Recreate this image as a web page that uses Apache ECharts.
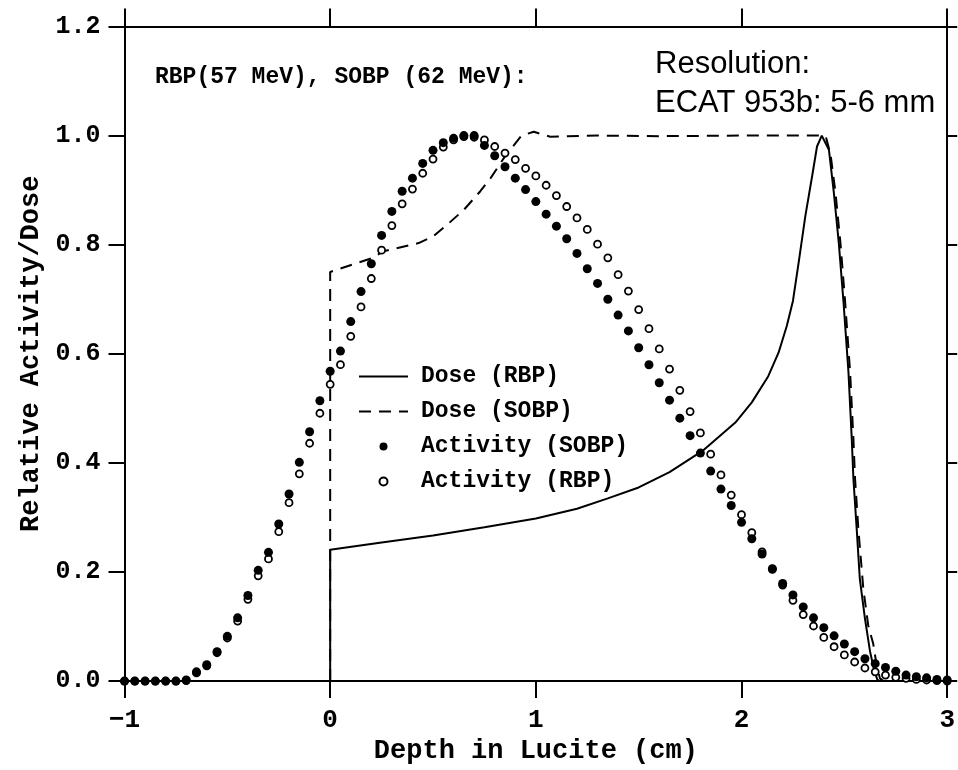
<!DOCTYPE html>
<html>
<head>
<meta charset="utf-8">
<script src="https://cdn.jsdelivr.net/npm/echarts@6/dist/echarts.min.js"></script>
<style>
html,body{margin:0;padding:0;background:#fff;}
#chart{width:958px;height:770px;}
</style>
</head>
<body>
<div id="chart"></div>
<script>
// ---- data ----
var depthGrid = [-1,-0.95,-0.9,-0.85,-0.8,-0.75,-0.7,-0.65,-0.6,-0.55,-0.5,-0.45,-0.4,-0.35,-0.3,-0.25,-0.2,-0.15,-0.1,-0.05,
  0,0.05,0.1,0.15,0.2,0.25,0.3,0.35,0.4,0.45,0.5,0.55,0.6,0.65,0.7,0.75,0.8,0.85,0.9,0.95,
  1,1.05,1.1,1.15,1.2,1.25,1.3,1.35,1.4,1.45,1.5,1.55,1.6,1.65,1.7,1.75,1.8,1.85,1.9,1.95,
  2,2.05,2.1,2.15,2.2,2.25,2.3,2.35,2.4,2.45,2.5,2.55,2.6,2.65,2.7,2.75,2.8,2.85,2.9,2.95,3];

var activitySOBP = [0,0,0,0,0,0,0.002,0.017,0.030,0.054,0.082,0.116,0.157,0.203,0.236,0.288,0.343,0.401,0.457,0.514,
  0.568,0.605,0.659,0.714,0.765,0.817,0.861,0.898,0.922,0.949,0.973,0.987,0.995,1.0,1.0,0.982,0.963,0.943,0.922,0.901,
  0.879,0.856,0.834,0.811,0.784,0.756,0.729,0.700,0.671,0.642,0.611,0.580,0.547,0.515,0.482,0.450,0.418,0.385,0.352,0.322,
  0.291,0.261,0.233,0.206,0.179,0.158,0.136,0.116,0.098,0.083,0.068,0.054,0.041,0.032,0.025,0.018,0.011,0.008,0.006,0.003,0.002];

var activityRBP = [0,0,0,0,0,0,0.001,0.015,0.028,0.052,0.079,0.110,0.150,0.193,0.224,0.274,0.327,0.380,0.436,0.491,
  0.544,0.580,0.632,0.686,0.738,0.790,0.835,0.875,0.902,0.931,0.957,0.979,0.992,0.998,0.997,0.992,0.980,0.968,0.956,0.940,
  0.926,0.909,0.890,0.870,0.849,0.828,0.801,0.776,0.745,0.715,0.681,0.646,0.609,0.572,0.533,0.494,0.455,0.416,0.378,0.341,
  0.305,0.272,0.237,0.205,0.176,0.148,0.122,0.101,0.080,0.063,0.048,0.035,0.024,0.017,0.011,0.007,0.005,0.003,0.002,0.001,0];

var doseRBP = [[0,0],[0,0.241],[0.25,0.254],[0.5,0.267],[0.75,0.282],[1.0,0.298],[1.2,0.316],[1.35,0.335],[1.5,0.355],
  [1.65,0.383],[1.81,0.422],[1.97,0.474],[2.05,0.511],[2.13,0.559],[2.18,0.602],[2.22,0.651],[2.25,0.697],[2.28,0.773],
  [2.31,0.852],[2.343,0.925],[2.367,0.98],[2.39,1.0],[2.425,0.974],[2.449,0.895],[2.473,0.803],[2.496,0.694],[2.52,0.566],
  [2.536,0.444],[2.544,0.371],[2.56,0.279],[2.575,0.188],[2.6,0.115],[2.625,0.054],[2.645,0.02],[2.66,0.003],[2.67,0],[3,0]];

var doseSOBP = [[0,0],[0,0.75],[0.2,0.775],[0.26,0.788],[0.43,0.803],[0.5,0.815],[0.57,0.837],[0.65,0.864],[0.73,0.898],
  [0.78,0.922],[0.85,0.962],[0.93,1.0],[0.99,1.007],[1.07,0.998],[1.3,1.0],[1.6,0.999],[2.0,1.0],[2.38,1.0],[2.41,0.998],
  [2.433,0.965],[2.457,0.895],[2.481,0.803],[2.504,0.694],[2.528,0.566],[2.544,0.444],[2.552,0.371],[2.568,0.279],
  [2.592,0.17],[2.616,0.102],[2.64,0.069],[2.657,0.029],[2.673,0.005],[2.69,0],[3,0]];

var xTicks = {min:-1, max:3, interval:1};
var yTicks = {min:0, max:1.2, interval:0.2};
var seriesNames = ['Dose (RBP)','Dose (SOBP)','Activity (SOBP)','Activity (RBP)'];

function pairs(xs, ys){ return xs.map(function(x,i){ return [x, ys[i]]; }); }

var mono = '"Liberation Mono", "DejaVu Sans Mono", monospace';
var chart = echarts.init(document.getElementById('chart'), null, {renderer:'canvas'});

var axisLineStyle = {color:'#000', width:2};
var option = {
  animation:false,
  backgroundColor:'#fff',
  grid:{left:124.5, right:5, top:26.5, bottom:87.3, containLabel:false},
  xAxis:[{
    type:'value', position:'bottom', min:xTicks.min, max:xTicks.max, interval:xTicks.interval,
    axisLine:{show:true, onZero:false, lineStyle:axisLineStyle},
    axisTick:{show:true, inside:false, length:17, lineStyle:{color:'#000', width:2}},
    axisLabel:{show:true, margin:26, color:'#000', fontFamily:mono, fontSize:26, fontWeight:'bold',
      formatter:function(v){ return String(v).replace('-', '\u2212'); }},
    splitLine:{show:false},
    name:'Depth in Lucite (cm)', nameLocation:'middle', nameGap:54,
    nameTextStyle:{color:'#000', fontFamily:mono, fontSize:27, fontWeight:'bold'}
  },{
    type:'value', position:'top', min:xTicks.min, max:xTicks.max, interval:xTicks.interval,
    axisLine:{show:true, onZero:false, lineStyle:axisLineStyle},
    axisTick:{show:true, inside:false, length:18, lineStyle:{color:'#000', width:2}},
    axisLabel:{show:false}, splitLine:{show:false}
  }],
  yAxis:[{
    type:'value', position:'left', min:yTicks.min, max:yTicks.max, interval:yTicks.interval,
    axisLine:{show:true, onZero:false, lineStyle:axisLineStyle},
    axisTick:{show:true, inside:false, length:16, lineStyle:{color:'#000', width:2}},
    axisLabel:{show:true, margin:24, color:'#000', fontFamily:mono, fontSize:25, fontWeight:'bold',
      formatter:function(v){ return v.toFixed(1); }},
    splitLine:{show:false},
    name:'Relative Activity/Dose', nameLocation:'middle', nameGap:79,
    nameTextStyle:{color:'#000', fontFamily:mono, fontSize:27, fontWeight:'bold'}
  },{
    type:'value', position:'right', min:yTicks.min, max:yTicks.max, interval:yTicks.interval,
    axisLine:{show:true, onZero:false, lineStyle:axisLineStyle},
    axisTick:{show:true, inside:false, length:10, lineStyle:{color:'#000', width:2}},
    axisLabel:{show:false}, splitLine:{show:false}
  }],
  legend:{
    orient:'vertical', left:358, top:364, padding:0,
    itemWidth:49, itemHeight:8, itemGap:10,
    data:[
      {name:seriesNames[0], itemStyle:{opacity:0}},
      {name:seriesNames[1], itemStyle:{opacity:0}},
      {name:seriesNames[2]},
      {name:seriesNames[3]}
    ],
    textStyle:{color:'#000', fontFamily:mono, fontSize:23, fontWeight:'bold', lineHeight:25, padding:[0,0,0,8]},
    selectedMode:false
  },
  graphic:[
    {type:'text', left:155, top:66, style:{text:'RBP(57 MeV), SOBP (62 MeV):', fill:'#000',
      font:'bold 23px "Liberation Mono", monospace'}},
    {type:'text', left:655, top:45, style:{text:'Resolution:\nECAT 953b: 5-6 mm', fill:'#000',
      font:'31px "Liberation Sans", Arial, sans-serif', lineHeight:39}}
  ],
  series:[
    {name:seriesNames[0], type:'line', data:doseRBP, symbol:'none', showSymbol:false, z:3,
      lineStyle:{color:'#000', width:2, type:'solid'}, itemStyle:{color:'#000'}},
    {name:seriesNames[1], type:'line', data:doseSOBP, symbol:'none', showSymbol:false, z:3,
      lineStyle:{color:'#000', width:2, type:[12,8]}, itemStyle:{color:'#000'}},
    {name:seriesNames[2], type:'scatter', data:pairs(depthGrid, activitySOBP), symbol:'circle', symbolSize:9, z:5,
      itemStyle:{color:'#000', opacity:1}},
    {name:seriesNames[3], type:'scatter', data:pairs(depthGrid, activityRBP), symbol:'circle', symbolSize:7, z:4,
      itemStyle:{color:'#fff', borderColor:'#000', borderWidth:1.8, opacity:1}}
  ]
};
chart.setOption(option);
</script>
</body>
</html>
